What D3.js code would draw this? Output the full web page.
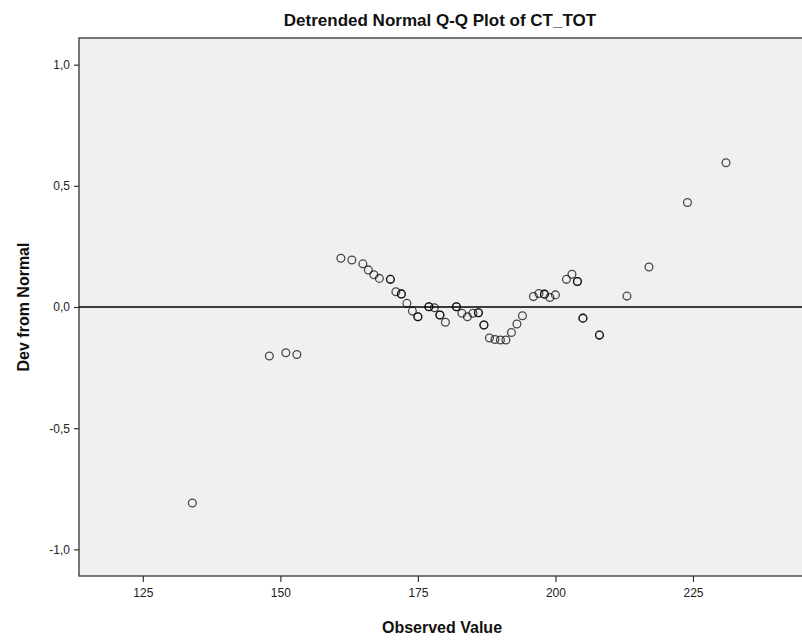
<!DOCTYPE html>
<html>
<head>
<meta charset="utf-8">
<script src="https://cdn.jsdelivr.net/npm/d3@7"></script>
<style>
  body { margin: 0; background: #fff; }
  text { font-family: "Liberation Sans", Arial, sans-serif; }
</style>
</head>
<body>
<div id="chart"></div>
<script>
// observed score, deviation from normal, number of overlapping cases
const observed = [134, 148, 151, 153, 161, 163, 165, 166, 167, 168, 170, 171, 172, 173, 174, 175,
  177, 178, 179, 180, 182, 183, 184, 185, 186, 187, 188, 189, 190, 191, 192, 193, 194,
  196, 197, 198, 199, 200, 202, 203, 204, 205, 208, 213, 217, 224, 231];
const devs = [-0.809, -0.202, -0.189, -0.196, 0.201, 0.194, 0.178, 0.153, 0.133, 0.118, 0.114, 0.063, 0.054, 0.015, -0.017, -0.040,
  0.001, -0.003, -0.033, -0.063, 0.001, -0.026, -0.040, -0.026, -0.024, -0.074, -0.128, -0.134, -0.136, -0.136, -0.105, -0.070, -0.036,
  0.043, 0.056, 0.053, 0.039, 0.050, 0.114, 0.135, 0.105, -0.046, -0.116, 0.045, 0.165, 0.431, 0.595];
const counts = [1, 1, 1, 1, 1, 1, 1, 1, 1, 1, 2, 1, 2, 1, 1, 2,
  2, 1, 2, 1, 2, 1, 1, 1, 2, 2, 1, 1, 1, 1, 1, 1, 1,
  1, 1, 2, 1, 1, 1, 1, 2, 2, 2, 1, 1, 1, 1];
const xTicks = [125, 150, 175, 200, 225];
const yTicks = [1, 0.5, 0, -0.5, -1];

const title = 'Detrended Normal Q-Q Plot of CT_TOT';
const xTitle = 'Observed Value';
const yTitle = 'Dev from Normal';

const w = 802;
const h = 641;
const padLeft = 79;
const padTop = 38;
const plotBottom = 576;
const plotRight = 803;

const xScale = d3.scaleLinear()
  .domain([113.4, 245])
  .range([padLeft, plotRight]);

const yScale = d3.scaleLinear()
  .domain([-1.11, 1.11])
  .range([plotBottom, padTop]);

const svg = d3.select('#chart')
  .append('svg')
  .attr('width', w)
  .attr('height', h);

svg.append('rect')
  .attr('x', padLeft)
  .attr('y', padTop)
  .attr('width', plotRight - padLeft)
  .attr('height', plotBottom - padTop)
  .attr('fill', '#f0f0f0')
  .attr('stroke', '#333')
  .attr('stroke-width', 1.3);

// reference line at zero
svg.append('line')
  .attr('x1', padLeft)
  .attr('x2', plotRight)
  .attr('y1', yScale(0))
  .attr('y2', yScale(0))
  .attr('stroke', '#000')
  .attr('stroke-width', 1.4);

const points = [];
observed.forEach((v, i) => {
  for (let k = 0; k < counts[i]; k++) points.push([v, devs[i]]);
});

svg.append('g')
  .selectAll('circle')
  .data(points)
  .enter()
  .append('circle')
  .attr('cx', d => xScale(d[0]))
  .attr('cy', d => yScale(d[1]))
  .attr('r', 3.9)
  .attr('fill', 'none')
  .attr('stroke', '#000')
  .attr('stroke-opacity', 0.7)
  .attr('stroke-width', 1.3);

const fmt = v => d3.format('.1f')(v).replace('.', ',').replace('−', '-');

const xAxis = d3.axisBottom(xScale)
  .tickValues(xTicks)
  .tickSize(6)
  .tickSizeOuter(0);

const yAxis = d3.axisLeft(yScale)
  .tickValues(yTicks)
  .tickFormat(fmt)
  .tickSize(5)
  .tickPadding(4)
  .tickSizeOuter(0);

const gx = svg.append('g')
  .attr('transform', `translate(0,${plotBottom})`)
  .call(xAxis);

const gy = svg.append('g')
  .attr('transform', `translate(${padLeft},0)`)
  .call(yAxis);

[gx, gy].forEach(g => {
  g.select('.domain').remove();
  g.selectAll('.tick line').attr('stroke', '#333').attr('stroke-width', 1.2);
  g.selectAll('.tick text')
    .attr('fill', '#222')
    .style('font-size', '12px')
    .style('font-family', '"Liberation Sans", Arial, sans-serif');
});
gx.selectAll('.tick text').attr('dy', '1.0em');

svg.append('text')
  .attr('x', 440)
  .attr('y', 26)
  .attr('text-anchor', 'middle')
  .style('font-size', '17px')
  .style('font-weight', 'bold')
  .attr('fill', '#111')
  .text(title);

svg.append('text')
  .attr('x', 442)
  .attr('y', 633)
  .attr('text-anchor', 'middle')
  .style('font-size', '16px')
  .style('font-weight', 'bold')
  .attr('fill', '#111')
  .text(xTitle);

svg.append('text')
  .attr('transform', `translate(29,${yScale(0)}) rotate(-90)`)
  .attr('text-anchor', 'middle')
  .style('font-size', '16px')
  .style('font-weight', 'bold')
  .attr('fill', '#111')
  .text(yTitle);
</script>
</body>
</html>
